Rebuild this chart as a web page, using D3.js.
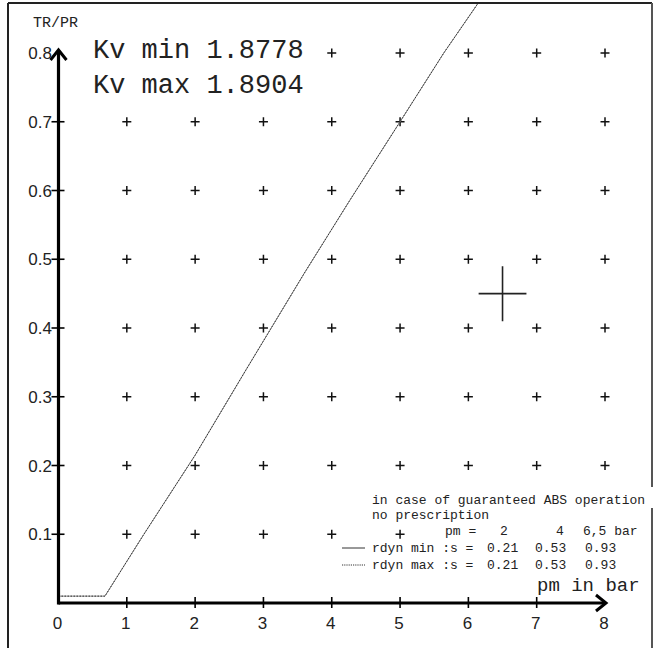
<!DOCTYPE html>
<html><head><meta charset="utf-8">
<script src="https://cdn.jsdelivr.net/npm/d3@7/dist/d3.min.js"></script>
<style>body{margin:0;background:#fff}svg{display:block}</style>
</head><body>
<svg id="c" width="669" height="648"></svg>
<script>
// ---- data ----
const xTicks = [0,1,2,3,4,5,6,7,8];
const yTicks = [0.1,0.2,0.3,0.4,0.5,0.6,0.7,0.8];
const yTickLabels = ["0.1","0.2","0.3","0.4","0.5","0.6","0.7","0.8"];
const gridX = [1,2,3,4,5,6,7,8];
const gridY = [0.1,0.2,0.3,0.4,0.5,0.6,0.7,0.8];
// TR/PR limit curve (rdyn min and rdyn max coincide)
const curveMin = [[0,0.01],[0.68,0.01],[1.25,0.10],[2.0,0.215],[2.75,0.34],[3.6,0.48],[4.26,0.585],[5.0,0.70],[5.64,0.80],[6.16,0.875]];
const curveMax = [[0,0.01],[0.68,0.01],[1.25,0.10],[2.0,0.215],[2.75,0.34],[3.6,0.48],[4.26,0.585],[5.0,0.70],[5.64,0.80],[6.16,0.875]];
const operatingPoint = {x:6.5, y:0.45, dx:0.35, dy:0.04};
const kvLabels = ["Kv min 1.8778","Kv max 1.8904"];
const legendPm = ["2","4","6,5 bar"];
const legendSMin = ["0.21","0.53","0.93"];
const legendSMax = ["0.21","0.53","0.93"];

// ---- drawing ----
const svg = d3.select("#c");
const x = d3.scaleLinear().domain([0,8]).range([58.5,605]);
const y = d3.scaleLinear().domain([0,0.8]).range([603,53]);
const mono = "'Liberation Mono', 'DejaVu Sans Mono', monospace";
const sans = "'Liberation Sans', Arial, sans-serif";

svg.append("defs").append("clipPath").attr("id","fr")
  .append("rect").attr("x",9).attr("y",4).attr("width",642).attr("height",644);

// frame
const fr = svg.append("g").attr("stroke","#222").attr("stroke-width",2).attr("fill","none");
fr.append("line").attr("x1",8).attr("y1",3).attr("x2",652).attr("y2",3);
fr.append("line").attr("x1",8).attr("y1",3).attr("x2",8).attr("y2",648);
fr.append("line").attr("x1",652).attr("y1",3).attr("x2",652).attr("y2",487).attr("stroke","#555");
fr.append("line").attr("x1",652).attr("y1",508).attr("x2",652).attr("y2",648).attr("stroke","#555");

const plot = svg.append("g").attr("clip-path","url(#fr)");

// grid plus markers
const pts = [];
gridY.forEach(gy => gridX.forEach(gx => pts.push([gx,gy])));
plot.append("g").selectAll("path").data(pts).join("path")
  .attr("d", d => `M${x(d[0])-4.5},${y(d[1])}h9M${x(d[0])},${y(d[1])-4.5}v9`)
  .attr("stroke","#111").attr("stroke-width",1.5).attr("fill","none");

// curves
const line = d3.line().x(d=>x(d[0])).y(d=>y(d[1]));
plot.append("path").datum(curveMin).attr("d",line).attr("fill","none")
  .attr("stroke","#888").attr("stroke-width",1);
plot.append("path").datum(curveMax).attr("d",line).attr("fill","none")
  .attr("stroke","#333").attr("stroke-width",1).attr("stroke-dasharray","1.5,1.5");

// operating point cross
const op = operatingPoint;
plot.append("path")
  .attr("d",`M${x(op.x-op.dx)},${y(op.y)}H${x(op.x+op.dx)}M${x(op.x)},${y(op.y+op.dy)}V${y(op.y-op.dy)}`)
  .attr("stroke","#222").attr("stroke-width",1.6).attr("fill","none");

// Kv labels with white background
kvLabels.forEach((t,i) => {
  const by = 58 + i*35;
  plot.append("rect").attr("x",90).attr("y",by-19).attr("width",218).attr("height",24).attr("fill","#fff");
  plot.append("text").attr("x",93).attr("y",by).attr("font-family",mono).attr("font-size",27)
    .attr("fill","#222").text(t);
});

// axes
const ax = svg.append("g").attr("stroke","#000").attr("fill","none");
ax.append("line").attr("x1",x(0)).attr("y1",y(0)).attr("x2",x(8)+1).attr("y2",y(0)).attr("stroke-width",3.2);
ax.append("line").attr("x1",x(0)).attr("y1",y(0)+1.5).attr("x2",x(0)).attr("y2",y(0.8)-3).attr("stroke-width",3.2);
// arrowheads
ax.append("path").attr("d",`M${x(8)-9},${y(0)-8}L${x(8)+1},${y(0)}L${x(8)-9},${y(0)+8}`).attr("stroke-width",3);
ax.append("path").attr("d",`M${x(0)-8},${y(0.8)+7}L${x(0)},${y(0.8)-3}L${x(0)+8},${y(0.8)+7}`).attr("stroke-width",3);
// ticks
ax.selectAll("path.xt").data(xTicks.filter(d=>d>0&&d<8)).join("path").attr("class","xt")
  .attr("d",d=>`M${x(d)},${y(0)-6}V${y(0)+5}`).attr("stroke-width",1.6);
ax.selectAll("path.yt").data(yTicks.filter(d=>d<0.8)).join("path").attr("class","yt")
  .attr("d",d=>`M${x(0)-7},${y(d)}H${x(0)+6}`).attr("stroke-width",1.6);

// tick labels
svg.append("g").selectAll("text").data(xTicks).join("text")
  .attr("x",d=>x(d)-1).attr("y",629).attr("text-anchor","middle")
  .attr("font-family",sans).attr("font-size",17).attr("fill","#222").text(d=>d);
svg.append("g").selectAll("text").data(yTicks).join("text")
  .attr("x",52).attr("y",d=>y(d)+6).attr("text-anchor","end")
  .attr("font-family",sans).attr("font-size",17).attr("fill","#222").text((d,i)=>yTickLabels[i]);

// axis titles
svg.append("text").attr("x",33).attr("y",27).attr("font-family",mono).attr("font-size",15)
  .attr("fill","#222").text("TR/PR");
svg.append("text").attr("x",537).attr("y",591).attr("font-family",mono).attr("font-size",19)
  .attr("fill","#222").text("pm in bar");

// legend
const lg = svg.append("g").attr("clip-path","url(#fr)").attr("font-family",mono).attr("font-size",13).attr("fill","#222");
lg.append("text").attr("x",372).attr("y",504).text("in case of guaranteed ABS operation");
lg.append("text").attr("x",372).attr("y",519).text("no prescription");
lg.append("rect").attr("x",440).attr("y",523).attr("width",208).attr("height",18).attr("fill","#fff");
lg.append("text").attr("x",445).attr("y",535).text("pm =");
const colX = [500,556,583];
legendPm.forEach((t,i)=>lg.append("text").attr("x",colX[i]).attr("y",535).text(t));
const valX = [487,535,585];
[["rdyn min :s =",legendSMin,552,null],["rdyn max :s =",legendSMax,569,"1.2,1"]].forEach(r=>{
  lg.append("line").attr("x1",342).attr("x2",365).attr("y1",r[2]-4).attr("y2",r[2]-4)
    .attr("stroke","#333").attr("stroke-width",1).attr("stroke-dasharray",r[3]);
  lg.append("text").attr("x",372).attr("y",r[2]).text(r[0]);
  r[1].forEach((t,i)=>lg.append("text").attr("x",valX[i]).attr("y",r[2]).text(t));
});
</script>
</body></html>
